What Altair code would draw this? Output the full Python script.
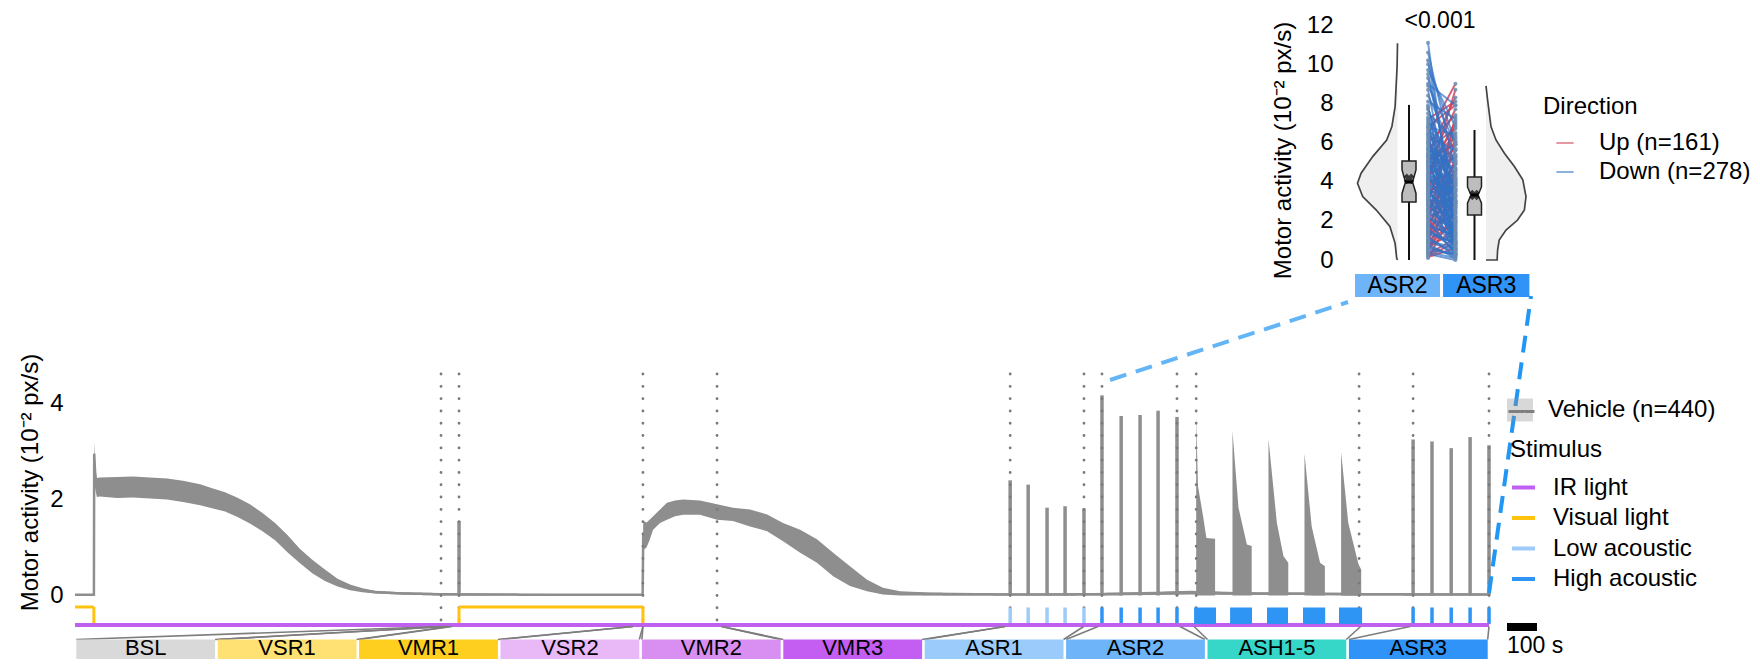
import altair as alt
import pandas as pd

# ====================== DATA ======================
T_END = 4713  # recording length (s)

phase_names = ["BSL", "VSR1", "VMR1", "VSR2", "VMR2", "VMR3", "ASR1", "ASR2", "ASH1-5", "ASR3"]
phase_colors = ["#d9d9d9", "#ffe173", "#ffcf1f", "#e9b8f7", "#d98ef1",
                "#c45df2", "#9acbfa", "#6db4f8", "#36d6c8", "#2f93f7"]
phase_start = [1223, 1240, 1257, 1860, 1893, 2155, 3100, 3410, 3730, 4450]
phase_end = [1237, 1250, 1860, 1893, 2155, 3100, 3362, 3683, 4285, 4713]

event_t = [1220, 1280, 1893, 2140, 3117, 3363, 3423, 3673, 3737, 4280, 4460, 4713]

trace_t = [0, 62, 63, 64, 68, 73, 83, 140, 193, 250, 307, 360, 417, 460, 500, 540, 583, 625,
           667, 708, 750, 792, 833, 875, 917, 958, 1000, 1083, 1217, 1600, 1892, 1894, 1905,
           1915, 1927, 1950, 1973, 2000, 2027, 2083, 2140, 2193, 2250, 2307, 2360, 2417, 2473,
           2527, 2583, 2640, 2693, 2750, 2850, 3000, 3200, 3400, 3600, 3720, 3900, 4100, 4300,
           4713]
trace_lo = [0.0, 0.0, 0.0, 2.70, 2.20, 2.05, 2.06, 2.03, 2.04, 2.02, 2.00, 1.95, 1.88, 1.81,
            1.75, 1.64, 1.50, 1.34, 1.15, 0.90, 0.67, 0.46, 0.30, 0.19, 0.11, 0.07, 0.04, 0.02,
            0.0, 0.0, 0.0, 0.95, 1.00, 1.15, 1.37, 1.51, 1.58, 1.65, 1.68, 1.68, 1.58, 1.55,
            1.44, 1.34, 1.13, 0.89, 0.68, 0.40, 0.20, 0.09, 0.02, 0.0, 0.0, 0.0, 0.0, 0.0,
            0.01, 0.02, 0.01, 0.01, 0.0, 0.0]
trace_hi = [0.03, 0.03, 0.03, 3.21, 2.65, 2.45, 2.46, 2.47, 2.48, 2.46, 2.44, 2.39, 2.32, 2.23,
            2.15, 2.04, 1.90, 1.72, 1.51, 1.26, 0.97, 0.74, 0.54, 0.35, 0.23, 0.15, 0.10, 0.07,
            0.05, 0.03, 0.03, 1.55, 1.52, 1.58, 1.65, 1.79, 1.93, 1.98, 2.00, 1.98, 1.90, 1.83,
            1.79, 1.69, 1.51, 1.37, 1.17, 0.89, 0.61, 0.33, 0.16, 0.09, 0.06, 0.05, 0.04, 0.05,
            0.08, 0.10, 0.07, 0.06, 0.05, 0.04]

spike_t = [1280, 3117, 3177, 3240, 3300, 3363, 3423, 3487, 3550, 3610, 3673,
           4460, 4523, 4587, 4650, 4713]
spike_v = [1.55, 2.40, 2.31, 1.83, 1.86, 1.81, 4.17, 3.74, 3.76, 3.85, 3.72,
           3.25, 3.21, 3.07, 3.30, 3.13]

ash_block = [1] * 5 + [2] * 4 + [3] * 4 + [4] * 4 + [5] * 4
ash_t = [3737, 3743, 3760, 3771, 3800, 3858, 3878, 3906, 3922, 3978, 4006, 4028, 4044,
         4098, 4122, 4150, 4166, 4220, 4244, 4278, 4287]
ash_v = [3.74, 2.28, 1.65, 1.20, 1.18, 3.42, 1.83, 1.06, 1.03, 3.26, 1.51, 0.82, 0.68,
         2.96, 1.44, 0.68, 0.61, 2.99, 1.51, 0.65, 0.54]

stim_names = ["IR light", "Visual light", "Low acoustic", "High acoustic"]
stim_colors = ["#c060f0", "#ffc20e", "#9ecbf7", "#2e95f5"]
visual_on_t0 = [0, 1280]
visual_on_t1 = [63, 1893]
low_ac_t = [3117, 3177, 3240, 3300, 3363]
high_ac_t = [3423, 3487, 3550, 3610, 3673, 4460, 4523, 4587, 4650, 4713]
ash_train_t0 = [3730, 3850, 3973, 4093, 4213]
ash_train_t1 = [3803, 3923, 4043, 4167, 4290]

SCALEBAR_S = 100

# inset (ASR2 vs ASR3)
groups = ["ASR2", "ASR3"]
group_colors = ["#6db4f8", "#2f93f7"]
vio2_v = [11.07, 9.88, 7.83, 6.81, 6.13, 5.28, 4.43, 3.92, 3.24, 2.55, 1.71, 0.85, 0.09, 0.0]
vio2_d = [0.0, 0.01, 0.06, 0.14, 0.27, 0.62, 0.91, 1.0, 0.87, 0.53, 0.19, 0.06, 0.02, 0.0]
vio3_v = [8.89, 8.17, 6.81, 6.13, 5.45, 4.77, 4.09, 3.24, 2.55, 2.04, 1.53, 1.02, 0.51, 0.09, 0.0]
vio3_d = [0.0, 0.04, 0.125, 0.25, 0.46, 0.71, 0.92, 1.0, 0.96, 0.79, 0.5, 0.33, 0.29, 0.28, 0.28]
box_wlo = [0.0, 0.0]
box_q1 = [2.96, 2.30]
box_nlo = [3.40, 2.90]
box_med = [3.98, 3.32]
box_nhi = [4.60, 3.73]
box_q3 = [5.06, 4.24]
box_whi = [7.92, 6.64]
box_mean = [4.15, 3.32]
p_label = "<0.001"

down_asr2 = [11.1, 10.6, 10.2, 9.7, 9.3, 9.0, 8.7, 8.4, 8.1, 7.9, 7.7, 7.5, 7.3, 7.1, 6.9, 6.8,
             6.6, 6.5, 6.3, 6.2, 6.0, 5.9, 5.8, 5.6, 5.5, 5.4, 5.3, 5.2, 5.1, 5.0, 4.9, 4.8,
             4.7, 4.6, 4.5, 4.4, 4.3, 4.2, 4.1, 4.0, 3.9, 3.8, 3.7, 3.6, 3.5, 3.4, 3.3, 3.2,
             3.1, 3.0, 2.9, 2.8, 2.6, 2.5, 2.4, 2.2, 2.0, 1.8, 1.6, 1.4, 1.2, 1.0, 0.8, 0.6,
             0.4, 0.3, 7.8, 7.0, 6.7, 6.1, 5.7, 5.3, 4.95, 4.65, 4.35, 4.05, 3.75, 3.45, 3.15,
             2.85, 2.55, 2.3, 2.1, 1.9, 1.7, 1.5, 1.3, 1.1, 0.9, 0.7, 0.5, 8.9, 9.5, 10.0, 6.4,
             5.65]
down_asr3 = [0.9, 4.6, 2.1, 6.8, 3.3, 7.9, 1.6, 5.4, 7.2, 0.5, 4.0, 6.1, 2.8, 5.0, 1.3, 6.4,
             3.6, 0.3, 5.6, 2.4, 4.4, 1.0, 3.8, 5.1, 2.0, 4.7, 0.7, 3.1, 4.2, 1.9, 3.5, 2.6,
             4.1, 0.4, 3.0, 1.5, 3.9, 2.2, 3.3, 0.9, 2.7, 3.5, 1.2, 2.9, 2.0, 0.2, 2.5, 1.7,
             2.8, 0.6, 2.1, 1.4, 2.2, 0.8, 1.8, 1.1, 0.3, 1.2, 0.5, 0.9, 0.2, 0.6, 0.1, 0.3,
             0.1, 0.0, 3.0, 1.9, 4.9, 3.7, 2.5, 4.6, 1.4, 3.9, 2.9, 3.6, 0.7, 2.4, 1.0,
             2.3, 1.5, 0.6, 1.7, 0.4, 1.3, 0.8, 0.9, 0.3, 0.5, 0.2, 0.3, 5.9, 3.0, 6.0, 0.8,
             4.9]
up_asr2 = [0.1, 0.3, 0.5, 0.7, 0.9, 1.1, 1.3, 1.5, 1.7, 1.9, 2.1, 2.3, 2.5, 2.7, 2.9, 3.1,
           3.3, 3.5, 3.7, 3.9, 4.1, 4.3, 4.5, 4.7, 4.9, 5.1, 5.4, 5.7, 6.0, 6.4, 6.8, 7.2,
           0.2, 0.6, 1.0, 1.6, 2.2, 2.8, 3.4, 4.0, 0.4, 0.8, 1.2, 1.8, 2.4, 3.0, 3.6, 4.2,
           4.8, 5.3, 0.15, 1.4, 2.6, 3.8, 5.0]
up_asr3 = [2.6, 1.1, 4.1, 2.0, 5.3, 3.0, 6.2, 2.4, 4.7, 3.4, 7.3, 3.9, 5.6, 4.3, 3.6, 6.5,
           4.9, 4.2, 5.9, 4.6, 8.7, 5.3, 7.0, 5.7, 7.7, 6.3, 8.3, 6.7, 7.4, 9.0, 7.9, 8.1,
           0.9, 1.6, 1.9, 2.9, 2.7, 3.2, 3.8, 4.4, 3.3, 1.3, 4.5, 2.2, 5.0, 6.9, 4.0, 7.1,
           5.2, 5.9, 0.6, 1.8, 2.9, 4.1, 6.0]
dir_names = ["Up (n=161)", "Down (n=278)"]
dir_colors = ["#d0435a", "#3272c4"]

# ====================== LAYOUT ======================
FONT = "Liberation Sans"
GRAY = "#8e8e8e"
W_PLOT, H_PLOT = 1744, 651


def P(v):  # page pixel -> plot pixel
    return v - 8


MX0, MX1 = 75, 1489
MAIN_X = alt.Scale(domain=[0, T_END], range=[P(MX0), P(MX1)], nice=False, zero=False)
Y0, PPU = 595.5, 48.0
MAIN_Y = alt.Scale(domain=[0, 4], range=[P(Y0), P(Y0 - 4 * PPU)], nice=False, zero=False)


def yv(page_y):
    return (Y0 - page_y) / PPU


def tx(page_x):
    return (page_x - MX0) / (MX1 - MX0) * T_END


LANE_VIS = yv(607)
LANE_IR = yv(625)
TICK_TOP, TICK_BOT = yv(607.5), yv(624)
LINK_BOT = yv(626.5)
BOX_TOP, BOX_BOT, BOX_MID = yv(639.5), yv(659), yv(647.5)
DOT_TOP, DOT_BOT = yv(374), yv(623)

IN_X = alt.Scale(domain=[0.5, 2.5], range=[P(1353.25), P(1530.25)], nice=False, zero=False)
IN_Y = alt.Scale(domain=[0, 12], range=[P(260), P(25)], nice=False, zero=False)


def iv(page_y):
    return (260 - page_y) * 12 / 235


GX = [1.0, 2.0]
BOX_OFF, PAIR_OFF, VW, BOX_HW, NOTCH_HW = 0.13, 0.345, 0.452, 0.079, 0.04


def mx(f):
    return alt.X(f, scale=MAIN_X, axis=None)


def my(f, axis=None):
    return alt.Y(f, scale=MAIN_Y, axis=axis)


def ix(f):
    return alt.X(f, scale=IN_X, axis=None)


def iy(f, axis=None):
    return alt.Y(f, scale=IN_Y, axis=axis)


YTITLE = "Motor activity (10\u207b\u00b2 px/s)"
VEH = "Vehicle (n=440)"

# ====================== MAIN PANEL ======================
trace_df = pd.DataFrame({"t": trace_t, "lo": trace_lo, "hi": trace_hi})
trace_df["mid"] = (trace_df["lo"] + trace_df["hi"]) / 2
trace_df["grp"] = VEH

main_axis = alt.Axis(orient="left", offset=-P(68), values=[0, 2, 4], domain=False, ticks=False,
                     tickSize=0, grid=False, labelPadding=5, labelFontSize=24, labelColor="black",
                     title=YTITLE, titleFontSize=24, titleFontWeight="normal", titleColor="black",
                     titleX=-38, titleY=P(482), titleBaseline="middle", titleAngle=270)

veh_fill_legend = alt.Legend(orient="none", legendX=P(1507), legendY=P(397), title=None,
                             symbolType="M-1,-0.885H1V0.885H-1Z", symbolSize=676,
                             symbolOpacity=0.35, symbolStrokeWidth=0, labelFontSize=24,
                             labelColor="black", labelOffset=15, labelLimit=400)
veh_line_legend = alt.Legend(orient="none", legendX=P(1507), legendY=P(397), title=None,
                             symbolType="stroke", symbolSize=676, symbolStrokeColor="#7f7f7f",
                             symbolStrokeWidth=3, labelFontSize=24, labelOpacity=0,
                             labelOffset=15, labelLimit=400)

band = alt.Chart(trace_df).mark_area(opacity=1).encode(
    x=mx("t:Q"), y=my("lo:Q", main_axis), y2="hi:Q",
    fill=alt.Fill("grp:N", scale=alt.Scale(domain=[VEH], range=[GRAY]), legend=veh_fill_legend))

center = alt.Chart(trace_df).mark_line(color=GRAY, strokeWidth=2.5).encode(
    x=mx("t:Q"), y=my("mid:Q"),
    strokeDash=alt.StrokeDash("grp:N", scale=alt.Scale(domain=[VEH], range=[[1, 0]]),
                              legend=veh_line_legend))

spk_df = pd.DataFrame({"t": spike_t, "v": spike_v, "base": 0.0})
spikes = alt.Chart(spk_df).mark_rule(color=GRAY, strokeWidth=3.5).encode(
    x=mx("t:Q"), y=my("base:Q"), y2="v:Q")

ash_df = pd.DataFrame({"block": ash_block, "t": ash_t, "v": ash_v, "base": 0.0})
ash = alt.Chart(ash_df).mark_area(color=GRAY).encode(
    x=mx("t:Q"), y=my("v:Q"), y2="base:Q", detail="block:N")

ev_df = pd.DataFrame({"t": event_t, "top": DOT_TOP, "bot": DOT_BOT})
dots = alt.Chart(ev_df).mark_rule(color="#7a7a7a", strokeWidth=2.8, strokeDash=[0.1, 12.2],
                                  strokeCap="round").encode(
    x=mx("t:Q"), y=my("top:Q"), y2="bot:Q")

# stimulus segments
seg = []
for a, b in zip(visual_on_t0, visual_on_t1):
    if a > 0:
        seg.append((a, a, LANE_IR, LANE_VIS, "Visual light", 3.0))
    seg.append((a, b, LANE_VIS, LANE_VIS, "Visual light", 3.0))
    seg.append((b, b, LANE_VIS, LANE_IR, "Visual light", 3.0))
for t in low_ac_t:
    seg.append((t, t, TICK_TOP, TICK_BOT, "Low acoustic", 3.5))
for t in high_ac_t:
    seg.append((t, t, TICK_TOP, TICK_BOT, "High acoustic", 3.5))
seg.append((0, T_END, LANE_IR, LANE_IR, "IR light", 4.0))
seg_df = pd.DataFrame(seg, columns=["t0", "t1", "v0", "v1", "stim", "w"])

stim_legend = alt.Legend(orient="none", legendX=P(1510), legendY=P(438), title="Stimulus",
                         titleFontSize=24, titleFontWeight="normal", titleColor="black",
                         titlePadding=12, labelFontSize=24, labelColor="black",
                         symbolType="stroke", symbolStrokeWidth=4, symbolSize=529,
                         labelOffset=16, rowPadding=4.5, labelLimit=400)
stim = alt.Chart(seg_df).mark_rule(strokeCap="butt").encode(
    x=mx("t0:Q"), x2="t1:Q", y=my("v0:Q"), y2="v1:Q",
    stroke=alt.Stroke("stim:N", scale=alt.Scale(domain=stim_names, range=stim_colors),
                      legend=stim_legend),
    strokeWidth=alt.StrokeWidth("w:Q", scale=None))

train_df = pd.DataFrame({"t0": ash_train_t0, "t1": ash_train_t1, "a": TICK_TOP, "b": TICK_BOT})
trains = alt.Chart(train_df).mark_rect(color=stim_colors[3]).encode(
    x=mx("t0:Q"), x2="t1:Q", y=my("a:Q"), y2="b:Q")

# phase boxes and their links to the time axis
BW = T_END / len(phase_names)
GAP = T_END * 1.3 / (MX1 - MX0)
box_l = [i * BW + GAP for i in range(len(phase_names))]
box_r = [(i + 1) * BW - GAP for i in range(len(phase_names))]
box_df = pd.DataFrame({"name": phase_names, "col": phase_colors, "l": box_l, "r": box_r,
                       "top": BOX_TOP, "bot": BOX_BOT, "mid": BOX_MID})
box_df["c"] = (box_df["l"] + box_df["r"]) / 2
link = []
for i in range(len(phase_names)):
    link.append((box_l[i], phase_start[i]))
    link.append((box_r[i], phase_end[i]))
link_df = pd.DataFrame(link, columns=["edge", "tt"])
link_df["a"] = BOX_TOP
link_df["b"] = LINK_BOT
links = alt.Chart(link_df).mark_rule(color="#7d7d7d", strokeWidth=1.6).encode(
    x=mx("edge:Q"), x2="tt:Q", y=my("a:Q"), y2="b:Q")
boxes = alt.Chart(box_df).mark_rect().encode(
    x=mx("l:Q"), x2="r:Q", y=my("top:Q"), y2="bot:Q", fill=alt.Fill("col:N", scale=None))
box_txt = alt.Chart(box_df).mark_text(fontSize=22, color="black", baseline="middle",
                                      align="center").encode(
    x=mx("c:Q"), y=my("mid:Q"), text="name:N")

# dashed zoom connectors (main trace -> inset)
con1 = pd.DataFrame({"t0": [3450], "v0": [yv(380)], "t1": [tx(1348)], "v1": [yv(302)]})
con2 = pd.DataFrame({"t0": [T_END], "v0": [0.05], "t1": [tx(1531)], "v1": [yv(296)]})
dash1 = alt.Chart(con1).mark_rule(color="#64b5f6", strokeWidth=4, strokeDash=[17, 10]).encode(
    x=mx("t0:Q"), x2="t1:Q", y=my("v0:Q"), y2="v1:Q")
dash2 = alt.Chart(con2).mark_rule(color="#2196f3", strokeWidth=4, strokeDash=[17, 10]).encode(
    x=mx("t0:Q"), x2="t1:Q", y=my("v0:Q"), y2="v1:Q")

# scale bar
sb_df = pd.DataFrame({"t0": [tx(1507)], "t1": [tx(1507) + SCALEBAR_S], "a": [yv(623)],
                      "b": [yv(631)], "ty": [yv(646)], "lab": [f"{SCALEBAR_S} s"]})
sbar = alt.Chart(sb_df).mark_rect(color="black").encode(
    x=mx("t0:Q"), x2="t1:Q", y=my("a:Q"), y2="b:Q")
sbar_txt = alt.Chart(sb_df).mark_text(fontSize=23, color="black", align="left",
                                      baseline="middle").encode(
    x=mx("t0:Q"), y=my("ty:Q"), text="lab:N")

# ====================== INSET ======================
inset_axis = alt.Axis(orient="left", offset=-P(1338), values=[0, 2, 4, 6, 8, 10, 12],
                      domain=False, ticks=False, tickSize=0, grid=False, labelPadding=5,
                      labelFontSize=24, labelColor="black", title=YTITLE, titleFontSize=24,
                      titleFontWeight="normal", titleColor="black", titleX=-55,
                      titleY=P(150), titleBaseline="middle", titleAngle=270)

vrows = []
for v, d in zip(vio2_v, vio2_d):
    vrows.append(("ASR2", v, GX[0] - d * VW, GX[0]))
for v, d in zip(vio3_v, vio3_d):
    vrows.append(("ASR3", v, GX[1], GX[1] + d * VW))
vio_df = pd.DataFrame(vrows, columns=["g", "v", "x0", "x1"]).sort_values(["g", "v"])
vio_fill = alt.Chart(vio_df).mark_area(orient="horizontal", color="#efefef").encode(
    y=iy("v:Q", inset_axis), x=ix("x0:Q"), x2="x1:Q", detail="g:N")

orows = []
k = 0
for v, d in zip(vio2_v, vio2_d):
    orows.append(("ASR2", k, v, GX[0] - d * VW)); k += 1
orows.append(("ASR3", k, 0.0, GX[1])); k += 1
for v, d in zip(vio3_v[::-1], vio3_d[::-1]):
    orows.append(("ASR3", k, v, GX[1] + d * VW)); k += 1
out_df = pd.DataFrame(orows, columns=["g", "k", "v", "x"])
vio_line = alt.Chart(out_df).mark_line(color="#444444", strokeWidth=1.7).encode(
    x=ix("x:Q"), y=iy("v:Q"), detail="g:N", order="k:Q")

# paired lines: "Up" drawn first, "Down" over it (as in the reference)
prow = []
pid = 0
for a, b in zip(up_asr2, up_asr3):
    prow += [(pid, dir_names[0], GX[0] + PAIR_OFF, a), (pid, dir_names[0], GX[1] - PAIR_OFF, b)]
    pid += 1
for a, b in zip(down_asr2, down_asr3):
    prow += [(pid, dir_names[1], GX[0] + PAIR_OFF, a), (pid, dir_names[1], GX[1] - PAIR_OFF, b)]
    pid += 1
pair_df = pd.DataFrame(prow, columns=["pid", "dir", "x", "v"])
dir_legend = alt.Legend(orient="none", legendX=P(1543), legendY=P(95), title="Direction",
                        titleFontSize=24, titleFontWeight="normal", titleColor="black",
                        titlePadding=12, labelFontSize=24, labelColor="black",
                        symbolType="stroke", symbolStrokeWidth=2, symbolSize=300,
                        symbolOffset=10, labelOffset=22, rowPadding=5, symbolOpacity=0.55,
                        labelLimit=400)
up_df = pair_df[pair_df["dir"] == dir_names[0]]
dn_df = pair_df[pair_df["dir"] == dir_names[1]]
pairs_up = alt.Chart(up_df).mark_line(strokeWidth=1.9, opacity=0.85, color=dir_colors[0]).encode(
    x=ix("x:Q"), y=iy("v:Q"), detail="pid:N")
pairs = alt.Chart(dn_df).mark_line(strokeWidth=1.9, opacity=0.7).encode(
    x=ix("x:Q"), y=iy("v:Q"), detail="pid:N",
    color=alt.Color("dir:N", scale=alt.Scale(domain=dir_names, range=dir_colors),
                    legend=dir_legend))
pts = alt.Chart(pair_df).mark_circle(size=16, color="#6b8db3", opacity=0.85).encode(
    x=ix("x:Q"), y=iy("v:Q"))

bcent = [GX[0] + BOX_OFF, GX[1] - BOX_OFF]
stat_df = pd.DataFrame({"g": groups, "c": bcent, "wlo": box_wlo, "whi": box_whi,
                        "med": box_med, "mean": box_mean})
stat_df["ml"] = stat_df["c"] - NOTCH_HW
stat_df["mr"] = stat_df["c"] + NOTCH_HW
whisk = alt.Chart(stat_df).mark_rule(color="#111111", strokeWidth=2).encode(
    x=ix("c:Q"), y=iy("wlo:Q"), y2="whi:Q")
nrows = []
for i, g in enumerate(groups):
    c = bcent[i]
    for v, hw in [(box_q1[i], BOX_HW), (box_nlo[i], BOX_HW), (box_med[i], NOTCH_HW),
                  (box_nhi[i], BOX_HW), (box_q3[i], BOX_HW)]:
        nrows.append((g, v, c - hw, c + hw))
notch_df = pd.DataFrame(nrows, columns=["g", "v", "xl", "xr"])
nbox = alt.Chart(notch_df).mark_area(orient="horizontal", fill="#bdbdbd", stroke="#222222",
                                     strokeWidth=1.5).encode(
    y=iy("v:Q"), x=ix("xl:Q"), x2="xr:Q", detail="g:N")
medl = alt.Chart(stat_df).mark_rule(color="black", strokeWidth=3).encode(
    x=ix("ml:Q"), x2="mr:Q", y=iy("med:Q"))
meanp = alt.Chart(stat_df).mark_point(shape="cross", angle=45, filled=True, size=110,
                                      color="black").encode(x=ix("c:Q"), y=iy("mean:Q"))

lab_df = pd.DataFrame({"g": groups, "col": group_colors,
                       "x0": [0.52, 1.515], "x1": [1.48, 2.49],
                       "a": iv(274), "b": iv(297), "m": iv(285.5)})
lab_df["c"] = (lab_df["x0"] + lab_df["x1"]) / 2
lab_box = alt.Chart(lab_df).mark_rect().encode(
    x=ix("x0:Q"), x2="x1:Q", y=iy("a:Q"), y2="b:Q", fill=alt.Fill("col:N", scale=None))
lab_txt = alt.Chart(lab_df).mark_text(fontSize=23, color="black", baseline="middle").encode(
    x=ix("c:Q"), y=iy("m:Q"), text="g:N")

p_df = pd.DataFrame({"x": [1.48], "y": [iv(21)], "lab": [p_label]})
p_txt = alt.Chart(p_df).mark_text(fontSize=23, color="black", baseline="middle").encode(
    x=ix("x:Q"), y=iy("y:Q"), text="lab:N")

# ====================== ASSEMBLE ======================
chart = alt.layer(
    band, center, ash, spikes, dots, stim, trains, links, boxes, box_txt,
    sbar, sbar_txt,
    vio_fill, vio_line, pairs_up, pairs, pts, whisk, nbox, medl, meanp, lab_box, lab_txt, p_txt,
    dash1, dash2,
).resolve_scale(
    x="independent", y="independent", color="independent", fill="independent",
    stroke="independent", strokeDash="independent", strokeWidth="independent"
).properties(
    width=W_PLOT, height=H_PLOT, autosize=alt.AutoSizeParams(type="none"), padding=0
).configure(font=FONT).configure_view(stroke=None)

chart.save("out.html", embed_options={"renderer": "svg", "actions": False})
